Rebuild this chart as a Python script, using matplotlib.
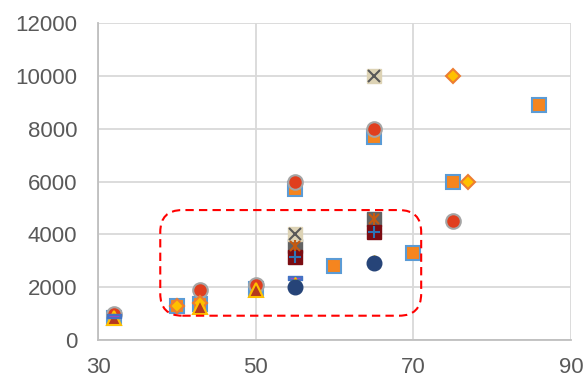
import matplotlib.pyplot as plt
import numpy as np
from matplotlib.patches import FancyBboxPatch
from matplotlib.path import Path

plt.rcParams['font.family'] = ['Liberation Sans', 'DejaVu Sans']

# series values (x = age, y = amount)
sq_x = [32, 40, 43, 50, 55, 60, 65, 70, 75, 86]
sq_y = [850, 1300, 1350, 1950, 5700, 2800, 7700, 3300, 6000, 8900]
circ_x = [32, 43, 50, 55, 65, 75]
circ_y = [1000, 1900, 2100, 6000, 8000, 4500]
dia_x = [40, 43, 75, 77]
dia_y = [1300, 1400, 10000, 6000]
tri_x = [32, 43, 50]
tri_y = [830, 1250, 1900]
dash_x = [32, 55]
dash_y = [900, 2350]
green_x = [55]
green_y = [2050]
ytri_x = [55, 65]
ytri_y = [2150, 3000]
navy_x = [55, 65]
navy_y = [2000, 2900]
star_x = [55, 65]
star_y = [3550, 4600]
plus_x = [55, 65]
plus_y = [3150, 4100]
cross_x = [55, 65]
cross_y = [4000, 10000]

xticks = [30, 50, 70, 90]
yticks = [0, 2000, 4000, 6000, 8000, 10000, 12000]

fig = plt.figure(figsize=(5.85, 3.78), dpi=100)
ax = fig.add_axes([0.1675, 0.1005, 0.8085, 0.8385])
ax.set_xlim(30, 90)
ax.set_ylim(0, 12000)
ax.set_xticks(xticks)
ax.set_yticks(yticks)
ax.grid(True, color='#D9D9D9', lw=1.3)
ax.set_axisbelow(True)
for s in ['top', 'right']:
    ax.spines[s].set_visible(False)
for s in ['left', 'bottom']:
    ax.spines[s].set_color('#BFBFBF')
    ax.spines[s].set_linewidth(1.3)
ax.tick_params(length=0, labelsize=16, colors='#595959')
ax.tick_params(axis='x', pad=12)
ax.tick_params(axis='y', pad=15)

ms = 10.5
ax.plot(sq_x, sq_y, 's', ms=ms, mfc='#F5851F', mec='#5B9BD5', mew=1.5, zorder=3)
ax.plot(circ_x, circ_y, 'o', ms=ms, mfc='#E03E1E', mec='#A5A5A5', mew=1.5, zorder=4)
ax.plot(dia_x, dia_y, 'D', ms=7.5, mfc='#FFC000', mec='#ED7D31', mew=1.5, zorder=5)
ax.plot(tri_x, tri_y, '^', ms=ms, mfc='#B5381E', mec='#FFC000', mew=1.5, zorder=6)

bar = Path([(-1, -0.3), (1, -0.3), (1, 0.3), (-1, 0.3), (-1, -0.3)],
           [Path.MOVETO, Path.LINETO, Path.LINETO, Path.LINETO, Path.CLOSEPOLY])
ax.plot(dash_x, dash_y, ls='none', marker=bar, ms=ms, mfc='#4472C4', mec='#4472C4', zorder=7)
ax.plot(dash_x, dash_y, '_', ms=7, mec='#9E48C0', mew=0.8, zorder=7)

ax.plot(green_x, green_y, 'o', ms=9, mfc='#70AD47', mec='#70AD47', zorder=7)
ax.plot(ytri_x, ytri_y, '^', ms=9, mfc='#FFC000', mec='#FFC000', zorder=7)
ax.plot(navy_x, navy_y, 'o', ms=ms, mfc='#264478', mec='#264478', zorder=8)

ax.plot(star_x, star_y, 's', ms=ms, mfc='#636363', mec='#636363', zorder=8)
ax.plot(star_x, star_y, 'x', ms=7.5, mec='#C55A11', mew=1.5, zorder=9)
ax.plot(star_x, star_y, '|', ms=8, mec='#C55A11', mew=1.5, zorder=9)
ax.plot(plus_x, plus_y, 's', ms=ms, mfc='#7B0C12', mec='#7B0C12', zorder=8)
ax.plot(plus_x, plus_y, '+', ms=8, mec='#2E75B6', mew=1.5, zorder=9)
ax.plot(cross_x, cross_y, 's', ms=ms, mfc='#DDD3B5', mec='#DDD3B5', zorder=8)
ax.plot(cross_x, cross_y, 'x', ms=8, mec='#595959', mew=1.5, zorder=9)

# dashed rounded frame around the middle group
box = FancyBboxPatch((37.9, 920), 71.0 - 37.9, 4920 - 920,
                     boxstyle='round,pad=0,rounding_size=2.8',
                     mutation_aspect=298, fill=False, ec='#FF0000',
                     lw=1.5, ls=(0, (4, 2.5)), zorder=10)
ax.add_patch(box)

fig.savefig('out.png', dpi=100)
